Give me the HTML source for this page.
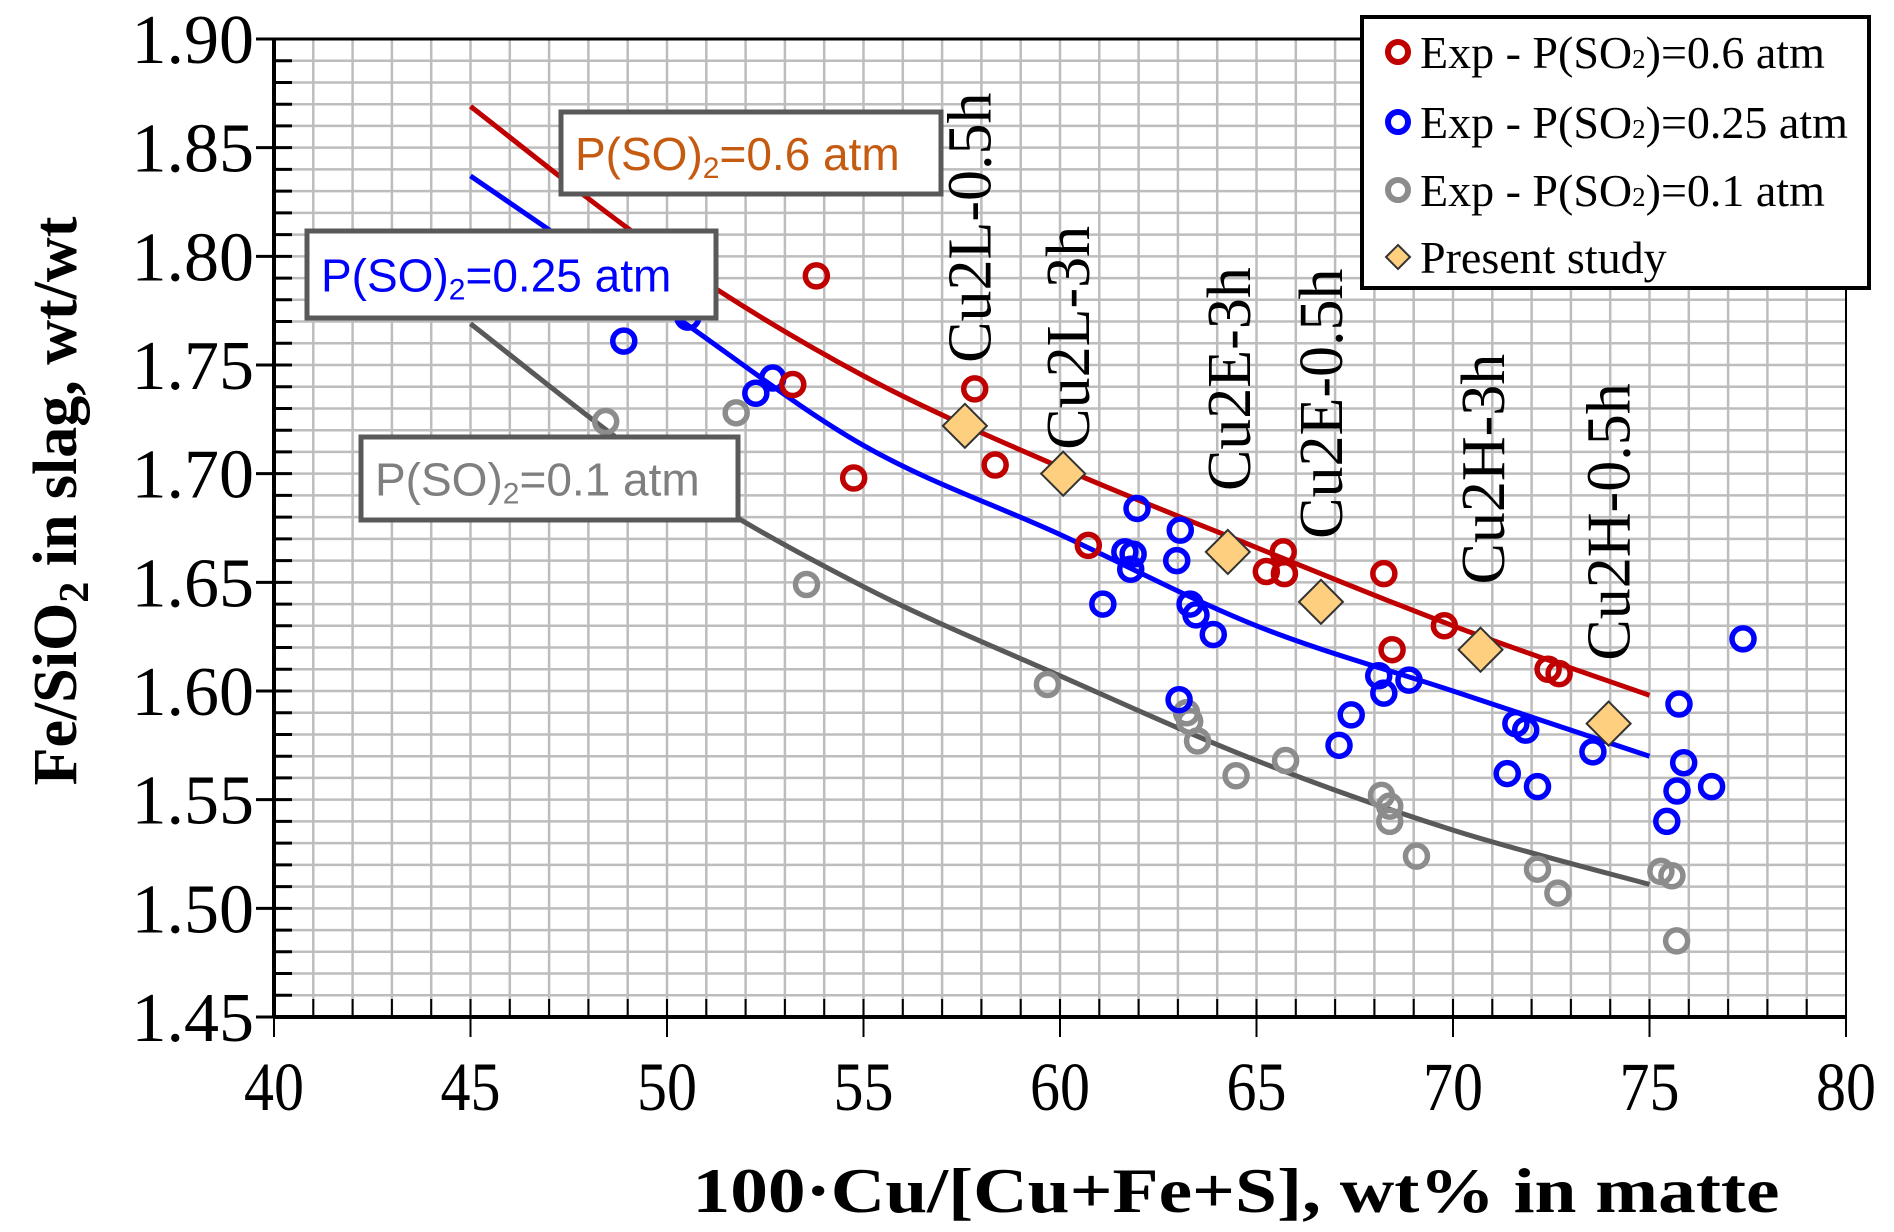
<!DOCTYPE html>
<html><head><meta charset="utf-8"><style>
html,body{margin:0;padding:0;background:#fff;}
svg{display:block;}
</style></head><body>
<svg id="chart" width="1894" height="1232" viewBox="0 0 1894 1232" xmlns="http://www.w3.org/2000/svg"></svg>
<script>
const xTicks = [40,45,50,55,60,65,70,75,80];
const yTicks = ["1.45","1.50","1.55","1.60","1.65","1.70","1.75","1.80","1.85","1.90"];
const redX = [53.8,53.2,54.75,57.83,58.35,60.72,65.25,65.68,65.71,68.24,68.45,69.78,72.42,72.7];
const redY = [1.791,1.741,1.698,1.739,1.704,1.667,1.655,1.664,1.654,1.654,1.619,1.630,1.610,1.608];
const blueX = [48.9,50.53,52.26,52.69,61.96,61.65,61.8,61.86,61.09,63.06,62.97,63.03,63.31,63.46,63.9,68.11,68.24,68.88,67.41,67.1,71.6,71.85,71.38,72.15,73.56,75.44,75.75,75.7,75.87,76.58,77.38];
const blueY = [1.761,1.772,1.737,1.744,1.684,1.664,1.656,1.663,1.640,1.674,1.660,1.596,1.640,1.635,1.626,1.607,1.599,1.605,1.589,1.575,1.585,1.582,1.562,1.556,1.572,1.540,1.594,1.554,1.567,1.556,1.624];
const grayX = [48.44,51.76,53.55,59.68,63.22,63.3,63.5,64.48,65.74,68.18,68.39,68.39,69.07,72.15,72.67,75.29,75.57,75.69];
const grayY = [1.724,1.728,1.649,1.603,1.590,1.586,1.577,1.561,1.568,1.552,1.547,1.540,1.524,1.518,1.507,1.517,1.515,1.485];
const studyX = [57.58,60.08,64.27,66.64,70.7,73.96];
const studyY = [1.722,1.700,1.664,1.641,1.619,1.585];
const studyLabels = ["Cu2L-0.5h","Cu2L-3h","Cu2E-3h","Cu2E-0.5h","Cu2H-3h","Cu2H-0.5h"];
const labelX = [57.7,60.2,64.3,66.64,70.76,73.96];
const labelBottom = [1.751,1.711,1.692,1.670,1.649,1.614];
const curveX = [45,50,55,60,65,70,75];
const curveRed = [1.869,1.800,1.745,1.703,1.666,1.630,1.598];
const curveBlue = [1.837,1.775,1.713,1.672,1.630,1.600,1.570];
const curveGray = [1.769,1.700,1.648,1.607,1.568,1.536,1.511];

const NS="http://www.w3.org/2000/svg";
const svg=document.getElementById('chart');
const L=274,R=1846,T=39,B=1017;
const X=v=>L+(v-40)/40*(R-L);
const Y=v=>T+(1.90-v)/0.45*(B-T);
function el(tag,attrs,parent){const e=document.createElementNS(NS,tag);for(const k in attrs)e.setAttribute(k,attrs[k]);(parent||svg).appendChild(e);return e;}

const grid=el('g',{});


for(let v=41;v<80;v++){el('line',{x1:X(v),x2:X(v),y1:T,y2:B,stroke:'#bdbdbd','stroke-width':2.5},grid);}
for(let i=1;i<45;i++){const v=1.45+i*0.01;el('line',{x1:L,x2:R,y1:Y(v),y2:Y(v),stroke:'#bdbdbd','stroke-width':2.5},grid);}
for(let v=41;v<80;v++){el('line',{x1:X(v),x2:X(v),y1:B,y2:B-18,stroke:'#000','stroke-width':2},grid);}
for(let i=1;i<45;i++){const v=1.45+i*0.01;el('line',{x1:L,x2:L+18,y1:Y(v),y2:Y(v),stroke:'#000','stroke-width':3},grid);}

el('line',{x1:256,x2:R,y1:T,y2:T,stroke:'#000','stroke-width':3});
el('line',{x1:R,x2:R,y1:T,y2:B,stroke:'#000','stroke-width':2});
el('line',{x1:L,x2:L,y1:T,y2:B,stroke:'#000','stroke-width':4});
el('line',{x1:L,x2:R,y1:B,y2:B,stroke:'#000','stroke-width':4});

xTicks.forEach(v=>{
  el('line',{x1:X(v),x2:X(v),y1:B,y2:B+20,stroke:'#000','stroke-width':2});
  const t=el('text',{x:0,y:0,'text-anchor':'middle','font-family':'Liberation Serif, serif','font-size':60,transform:`translate(${X(v)},1110) scale(1,1.15)`},svg);
  t.textContent=v;
  
  
});
yTicks.forEach(s=>{
  const v=parseFloat(s);
  el('line',{x1:L-18,x2:L,y1:Y(v),y2:Y(v),stroke:'#000','stroke-width':3});
  const t=el('text',{x:254,y:Y(v)+24,'text-anchor':'end','font-family':'Liberation Serif, serif','font-size':70},svg);
  t.textContent=s;
  
  
});

const xt=el('text',{x:1236,y:1212,'text-anchor':'middle','font-family':'Liberation Serif, serif','font-size':64,'font-weight':'bold',textLength:1087,lengthAdjust:'spacingAndGlyphs'});
xt.textContent='100·Cu/[Cu+Fe+S], wt% in matte';


const yt=el('text',{x:0,y:0,'text-anchor':'middle','font-family':'Liberation Serif, serif','font-size':62,'font-weight':'bold',transform:'translate(76,501) rotate(-90)'});
yt.innerHTML='Fe/SiO<tspan font-size="42" dy="12">2</tspan><tspan dy="-12"> in slag, wt/wt</tspan>';



function curvePath(xs,ys){
  const p=xs.map((x,i)=>[X(x),Y(ys[i])]);
  let d='M'+p[0][0]+','+p[0][1];
  for(let i=0;i<p.length-1;i++){
    const p0=p[i-1]||p[i],p1=p[i],p2=p[i+1],p3=p[i+2]||p[i+1];
    const c1=[p1[0]+(p2[0]-p0[0])/6,p1[1]+(p2[1]-p0[1])/6];
    const c2=[p2[0]-(p3[0]-p1[0])/6,p2[1]-(p3[1]-p1[1])/6];
    d+=' C'+c1+' '+c2+' '+p2;
  }
  return d;
}
[[curveRed,'#c00000','curve-0.6-atm'],[curveBlue,'#0000ff','curve-0.25-atm'],[curveGray,'#595959','curve-0.1-atm']].forEach(([ys,c,n])=>{
  const pth=el('path',{d:curvePath(curveX,ys),fill:'none',stroke:c,'stroke-width':5});
  
  
});

function pts(xs,ys,c,n){
  xs.forEach((x,i)=>{
    const ci=el('circle',{cx:X(x),cy:Y(ys[i]),r:11,fill:'none',stroke:c,'stroke-width':5.5});
    
    
  });
}
pts(grayX,grayY,'#8c8c8c','point-0.1-atm');
pts(blueX,blueY,'#0000ff','point-0.25-atm');
pts(redX,redY,'#c00000','point-0.6-atm');
studyX.forEach((x,i)=>{
  const cx=X(x),cy=Y(studyY[i]),h=22;
  const d=el('polygon',{points:`${cx},${cy-h} ${cx+h},${cy} ${cx},${cy+h} ${cx-h},${cy}`,fill:'#ffcf80',stroke:'#333','stroke-width':2});
  
  
  const t=el('text',{x:0,y:0,'font-family':'Liberation Serif, serif','font-size':62,transform:`translate(${X(labelX[i])+21},${Y(labelBottom[i])}) rotate(-90)`});
  t.textContent=studyLabels[i];
  
  
});

function box(x,y,w,h,txt,sub,rest,color,n){
  const g=el('g',{});
  
  
  el('rect',{x:x,y:y,width:w,height:h,fill:'#fff',stroke:'#595959','stroke-width':5},g);
  const t=el('text',{x:x+14,y:y+h/2+17,'font-family':'Liberation Sans, sans-serif','font-size':46,fill:color},g);
  t.innerHTML=txt+'<tspan font-size="30" dy="8">'+sub+'</tspan><tspan dy="-8">'+rest+'</tspan>';
}
box(561,112,380,82,'P(SO)','2','=0.6 atm','#c55a11','label-0.6-atm');
box(307,231,409,87,'P(SO)','2','=0.25 atm','#0000ff','label-0.25-atm');
box(361,437,377,83,'P(SO)','2','=0.1 atm','#7f7f7f','label-0.1-atm');

const lg=el('g',{});


el('rect',{x:1362,y:17,width:507,height:271,fill:'#fff',stroke:'#000','stroke-width':4},lg);
const legC=['#c00000','#0000ff','#8c8c8c'];
const legT=['=0.6 atm','=0.25 atm','=0.1 atm'];
[52,122,190].forEach((yy,i)=>{
  const c=el('circle',{cx:1398,cy:yy,r:10,fill:'none',stroke:legC[i],'stroke-width':6},lg);
  
  
  const t=el('text',{x:1420,y:yy+16,'font-family':'Liberation Serif, serif','font-size':46},lg);
  t.innerHTML='Exp - P(SO<tspan font-size="27">2</tspan>)'+legT[i];
  
  
});
el('polygon',{points:'1398,245 1410,257 1398,269 1386,257',fill:'#ffcf80',stroke:'#333','stroke-width':2},lg);
const lt=el('text',{x:1420,y:273,'font-family':'Liberation Serif, serif','font-size':46},lg);
lt.textContent='Present study';


</script>
</body></html>
